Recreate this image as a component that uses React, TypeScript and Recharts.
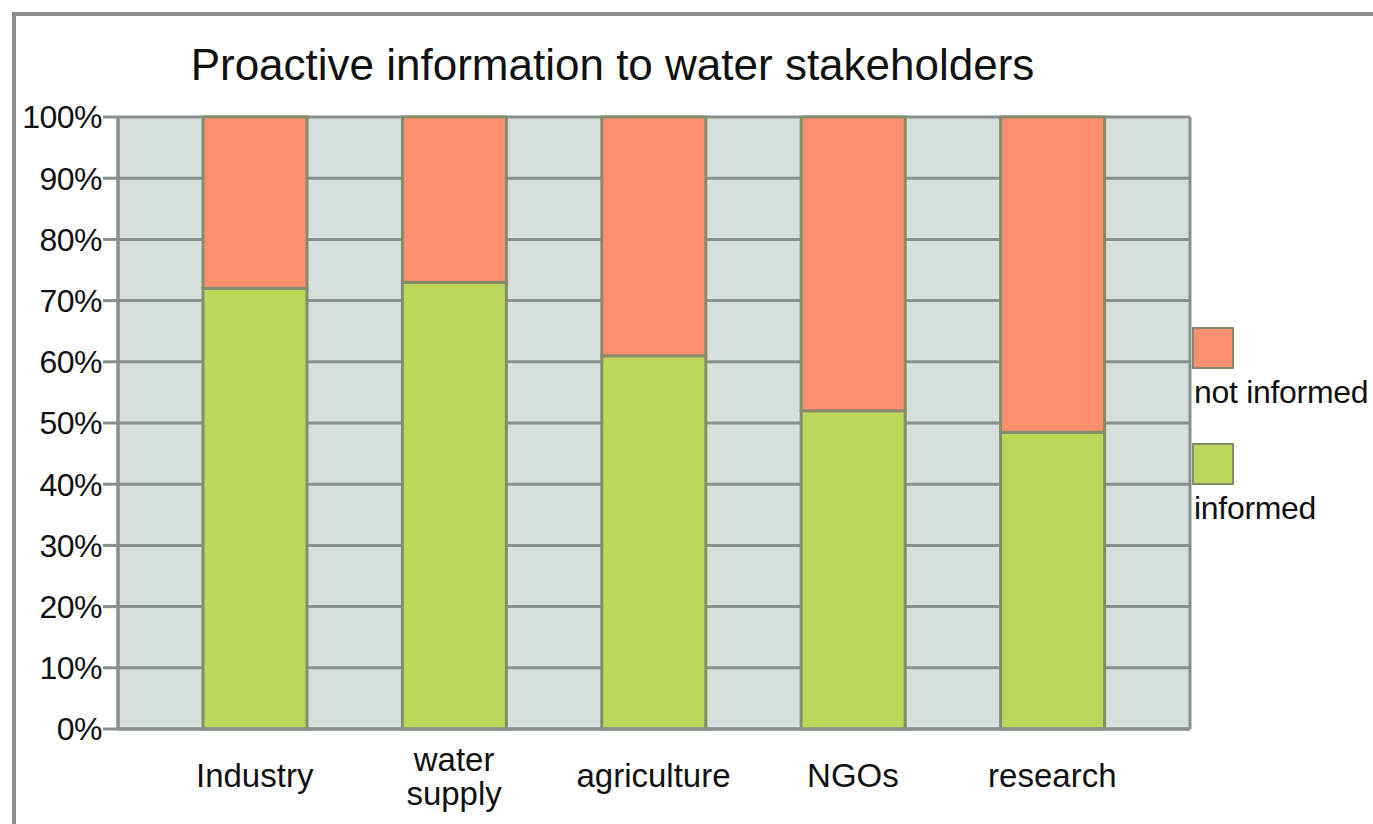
import { BarChart, Bar, XAxis, YAxis, CartesianGrid, Legend } from "recharts";

const categories = ["Industry", "water\nsupply", "agriculture", "NGOs", "research"];
const informed = [0.72, 0.73, 0.61, 0.52, 0.485];
const notInformed = [0.28, 0.27, 0.39, 0.48, 0.515];
const yTicks = [0, 0.1, 0.2, 0.3, 0.4, 0.5, 0.6, 0.7, 0.8, 0.9, 1];

const data = categories.map((name, i) => ({
    name,
    informed: informed[i],
    notInformed: notInformed[i],
}));

const FONT = "'Liberation Sans', Arial, sans-serif";
const GRID = "#88918c";
const GREEN = "#bcd65a";
const ORANGE = "#fe8f6e";
const EDGE = "#868b6c";

function XTick(props: any) {
    const { x, y, payload } = props;
    const lines = String(payload.value).split("\n");
    const startY = lines.length > 1 ? y + 34 : y + 50;
    return (
        <text
            x={x}
            y={startY}
            textAnchor="middle"
            fontFamily={FONT}
            fontSize={33}
            fill="#111"
        >
            {lines.map((l, i) => (
                <tspan key={i} x={x} dy={i === 0 ? 0 : 34}>
                    {l}
                </tspan>
            ))}
        </text>
    );
}

function LegendBox() {
    const items = [
        { label: "not informed", color: ORANGE },
        { label: "informed", color: GREEN },
    ];
    return (
        <div style={{ fontFamily: FONT, fontSize: 32, color: "#111", letterSpacing: -0.3 }}>
            {items.map((it) => (
                <div key={it.label} style={{ height: 116 }}>
                    <div
                        style={{
                            width: 38,
                            height: 38,
                            background: it.color,
                            border: `2px solid ${EDGE}`,
                        }}
                    />
                    <div style={{ marginTop: 3, lineHeight: "40px", whiteSpace: "nowrap", marginLeft: 2 }}>
                        {it.label}
                    </div>
                </div>
            ))}
        </div>
    );
}

export default function App() {
    return (
        <div
            style={{
                position: "absolute",
                left: 0,
                top: 0,
                width: 1373,
                height: 824,
                background: "#fff",
                overflow: "hidden",
            }}
        >
            <div
                style={{
                    position: "absolute",
                    left: 12,
                    top: 12,
                    width: 1400,
                    height: 900,
                    borderTop: "4px solid #8e8e8e",
                    borderLeft: "4px solid #8e8e8e",
                }}
            />
            <div
                style={{
                    position: "absolute",
                    left: 0,
                    top: 40,
                    width: 1225,
                    textAlign: "center",
                    fontFamily: FONT,
                    fontSize: 44,
                    color: "#111",
                    whiteSpace: "nowrap",
                }}
            >
                Proactive information to water stakeholders
            </div>
            <div style={{ position: "absolute", left: 0, top: 0 }}>
                <BarChart
                    width={1373}
                    height={824}
                    data={data}
                    margin={{ top: 117, right: 183, bottom: 0, left: 0 }}
                    barSize={104}
                >
                    <CartesianGrid
                        fill="#d6dfdb"
                        stroke={GRID}
                        strokeWidth={3}
                        verticalCoordinatesGenerator={({ offset }: any) => [
                            offset.left,
                            offset.left + offset.width,
                        ]}
                    />
                    <XAxis
                        dataKey="name"
                        height={95}
                        padding={{ left: 37, right: 38 }}
                        tickLine={false}
                        axisLine={{ stroke: GRID, strokeWidth: 3 }}
                        interval={0}
                        tick={<XTick />}
                    />
                    <YAxis
                        width={118}
                        domain={[0, 1]}
                        ticks={yTicks}
                        interval={0}
                        tickFormatter={(v: number) => `${Math.round(v * 100)}%`}
                        tickSize={15}
                        tickMargin={1}
                        tickLine={{ stroke: GRID, strokeWidth: 3 }}
                        axisLine={{ stroke: GRID, strokeWidth: 3 }}
                        tick={{ fontFamily: FONT, fontSize: 32, fill: "#111", letterSpacing: -0.5 }}
                    />
                    <Legend
                        layout="vertical"
                        align="center"
                        verticalAlign="middle"
                        content={() => <LegendBox />}
                        wrapperStyle={{ position: "absolute", left: 1192, top: 327, width: 181 }}
                    />
                    <Bar
                        dataKey="informed"
                        stackId="a"
                        fill={GREEN}
                        stroke={EDGE}
                        strokeWidth={3}
                        isAnimationActive={false}
                    />
                    <Bar
                        dataKey="notInformed"
                        stackId="a"
                        fill={ORANGE}
                        stroke={EDGE}
                        strokeWidth={3}
                        isAnimationActive={false}
                    />
                </BarChart>
            </div>
        </div>
    );
}
